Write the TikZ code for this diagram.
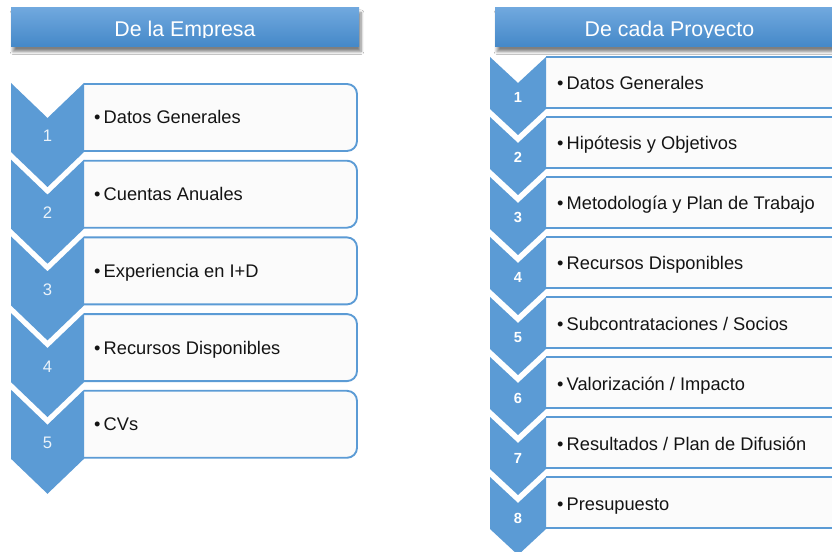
\documentclass[tikz,border=0pt]{standalone}
\usepackage{fontspec}
\setmainfont{Liberation Sans}
\usetikzlibrary{shadows.blur}
\definecolor{chevblue}{HTML}{5B9BD5}
\definecolor{hdrtop}{HTML}{70A8DE}
\definecolor{hdrbot}{HTML}{4488C8}
\definecolor{boxfill}{HTML}{FBFBFB}
\definecolor{itemgray}{HTML}{141414}
\tikzset{inner sep=0pt, outer sep=0pt,
  chev/.style={fill=chevblue},
  itembox/.style={draw=chevblue, fill=boxfill, line width=1.4pt, rounded corners=7.5pt},
  itemtxt/.style={anchor=base west, text=itemgray, font=\fontsize{13.7}{16}\selectfont},
  numL/.style={anchor=base, text=white!88!chevblue, font=\fontsize{12.5}{15}\selectfont},
  numR/.style={anchor=base, text=white, font=\fontsize{11}{13}\selectfont\bfseries},
  header/.style={anchor=north west, top color=hdrtop, bottom color=hdrbot,
    blur shadow={shadow xshift=1.5pt, shadow yshift=-3.5pt, shadow opacity=50, shadow blur steps=6}},
  hdrtxt/.style={anchor=base, text=white, font=\fontsize{16}{19}\selectfont}}

\begin{document}
\begin{tikzpicture}[x=0.75pt, y=-0.75pt]
\clip (0,0) rectangle (832,552);
\fill[white] (0,0) rectangle (832,552);

% headers
\node[header, minimum width=261pt, minimum height=29.25pt] (hdrL) at (11,8) {};
\node[header, minimum width=261.75pt, minimum height=29.25pt] (hdrR) at (495,8) {};
\begin{scope}
  \clip (11,8) rectangle (844,37.6);
  \node[hdrtxt] (hdrLtxt) at (185,37) {De la Empresa};
  \node[hdrtxt] (hdrRtxt) at (669.5,37) {De cada Proyecto};
\end{scope}

% left column
\foreach \i/\txt in {1/Datos Generales, 2/Cuentas Anuales, 3/Experiencia en I+D,
    4/Recursos Disponibles, 5/CVs} {
  \pgfmathsetmacro{\ytop}{83+76.7*(\i-1)}
  \filldraw[itembox] (84,\ytop+68) -- (357,\ytop+68) -- (357,\ytop+1) -- (84,\ytop+1);
  \fill[chev] (11,\ytop) -- (47.5,\ytop+35) -- (84,\ytop) -- (84,\ytop+69)
    -- (47.5,\ytop+104) -- (11,\ytop+69) -- cycle;
  \node[numL] (lnum-\i) at (47.5,\ytop+59) {\i};
  \node[itemtxt] (ltxt-\i) at (94,\ytop+41) {\textbullet\hspace{2.5pt}\txt};
} % end of \foreach \i

% right column
\foreach \i/\txt in {1/Datos Generales, 2/Hipótesis y Objetivos,
    3/Metodología y Plan de Trabajo, 4/Recursos Disponibles,
    5/{Subcontrataciones / Socios}, 6/{Valorización / Impacto},
    7/{Resultados / Plan de Difusión}, 8/Presupuesto} {
  \pgfmathsetmacro{\ytop}{57+60*(\i-1)}
  \filldraw[itembox] (546,\ytop+51) -- (870,\ytop+51) -- (870,\ytop) -- (546,\ytop);
  \fill[chev] (490,\ytop) -- (518,\ytop+26) -- (546,\ytop) -- (546,\ytop+52)
    -- (518,\ytop+78) -- (490,\ytop+52) -- cycle;
  \node[numR] (rnum-\i) at (518,\ytop+46) {\i};
  \node[itemtxt] (rtxt-\i) at (557,\ytop+33) {\textbullet\hspace{2.5pt}\txt};
} % end of \foreach \i
\end{tikzpicture}
\end{document}
